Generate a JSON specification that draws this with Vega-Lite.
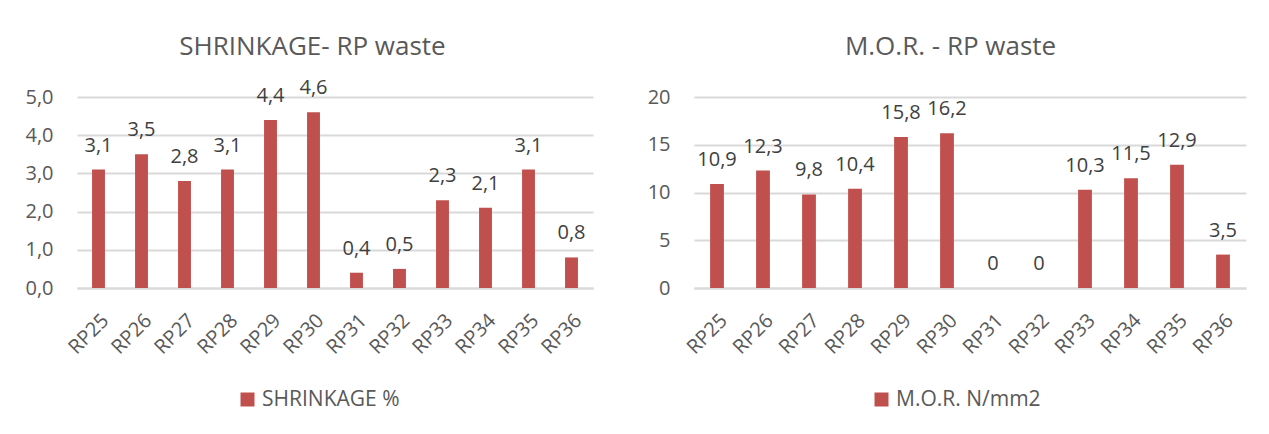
{
  "$schema": "https://vega.github.io/schema/vega-lite/v6.json",
  "padding": {"left": 24, "top": 34, "right": 5, "bottom": 5},
  "config": {
    "locale": {"number": {"decimal": ",", "thousands": ".", "grouping": [3], "currency": ["", " €"]}},
    "font": "Open Sans",
    "view": {"stroke": null},
    "axis": {"labelColor": "#595959", "labelFont": "Open Sans", "labelFontSize": 20, "gridColor": "#D9D9D9", "gridWidth": 2, "domain": false, "ticks": false, "title": null},
    "title": {"color": "#595959", "fontSize": 26, "font": "Open Sans", "fontWeight": "normal", "frame": "bounds", "anchor": "middle", "dx": 4},
    "legend": {"orient": "none", "direction": "horizontal", "title": null, "labelColor": "#595959", "labelFont": "Open Sans", "labelFontSize": 21, "symbolType": "square", "symbolSize": 196, "symbolStrokeWidth": 0, "symbolOpacity": 1, "padding": 0, "legendY": 292},
    "concat": {"spacing": 54}
  },
  "datasets": {
    "shrink": [
      {"sample": "RP25", "value": 3.1}, {"sample": "RP26", "value": 3.5}, {"sample": "RP27", "value": 2.8},
      {"sample": "RP28", "value": 3.1}, {"sample": "RP29", "value": 4.4}, {"sample": "RP30", "value": 4.6},
      {"sample": "RP31", "value": 0.4}, {"sample": "RP32", "value": 0.5}, {"sample": "RP33", "value": 2.3},
      {"sample": "RP34", "value": 2.1}, {"sample": "RP35", "value": 3.1}, {"sample": "RP36", "value": 0.8}
    ],
    "mor": [
      {"sample": "RP25", "value": 10.9}, {"sample": "RP26", "value": 12.3}, {"sample": "RP27", "value": 9.8},
      {"sample": "RP28", "value": 10.4}, {"sample": "RP29", "value": 15.8}, {"sample": "RP30", "value": 16.2},
      {"sample": "RP31", "value": 0}, {"sample": "RP32", "value": 0}, {"sample": "RP33", "value": 10.3},
      {"sample": "RP34", "value": 11.5}, {"sample": "RP35", "value": 12.9}, {"sample": "RP36", "value": 3.5}
    ]
  },
  "resolve": {"scale": {"color": "independent"}, "legend": {"color": "independent"}},
  "hconcat": [
    {
      "width": 516, "height": 191,
      "title": {"text": "SHRINKAGE- RP waste", "offset": 18},
      "data": {"name": "shrink"},
      "encoding": {
        "x": {"field": "sample", "type": "nominal", "sort": null,
              "scale": {"paddingInner": 0.7, "paddingOuter": 0.35},
              "axis": {"labelAngle": -45, "domain": true, "domainColor": "#D9D9D9", "domainWidth": 2, "labelPadding": 22}},
        "y": {"field": "value", "type": "quantitative", "scale": {"domain": [0, 5]},
              "axis": {"values": [0, 1, 2, 3, 4, 5], "format": ".1f", "labelPadding": 24, "minExtent": 53, "maxExtent": 53}}
      },
      "layer": [
        {"mark": {"type": "bar"},
         "encoding": {"color": {"datum": "SHRINKAGE %", "type": "nominal", "scale": {"range": ["#C0504D"]}, "legend": {"legendX": 160}}}},
        {"mark": {"type": "text", "baseline": "alphabetic", "dy": -18, "fontSize": 20, "color": "#404040"},
         "encoding": {"text": {"field": "value", "type": "quantitative", "format": ".1f"}}}
      ]
    },
    {
      "width": 552, "height": 191,
      "title": {"text": "M.O.R. - RP waste", "offset": 27},
      "data": {"name": "mor"},
      "encoding": {
        "x": {"field": "sample", "type": "nominal", "sort": null,
              "scale": {"paddingInner": 0.7, "paddingOuter": 0.35},
              "axis": {"labelAngle": -45, "domain": true, "domainColor": "#D9D9D9", "domainWidth": 2, "labelPadding": 22}},
        "y": {"field": "value", "type": "quantitative", "scale": {"domain": [0, 20]},
              "axis": {"values": [0, 5, 10, 15, 20], "format": "d", "labelPadding": 24, "minExtent": 46, "maxExtent": 46}}
      },
      "layer": [
        {"mark": {"type": "bar"},
         "encoding": {"color": {"datum": "M.O.R. N/mm2", "type": "nominal", "scale": {"range": ["#C0504D"]}, "legend": {"legendX": 177}}}},
        {"mark": {"type": "text", "baseline": "alphabetic", "dy": -18, "fontSize": 20, "color": "#404040"},
         "encoding": {"text": {"field": "value", "type": "quantitative", "format": ".1~f"}}}
      ]
    }
  ]
}
